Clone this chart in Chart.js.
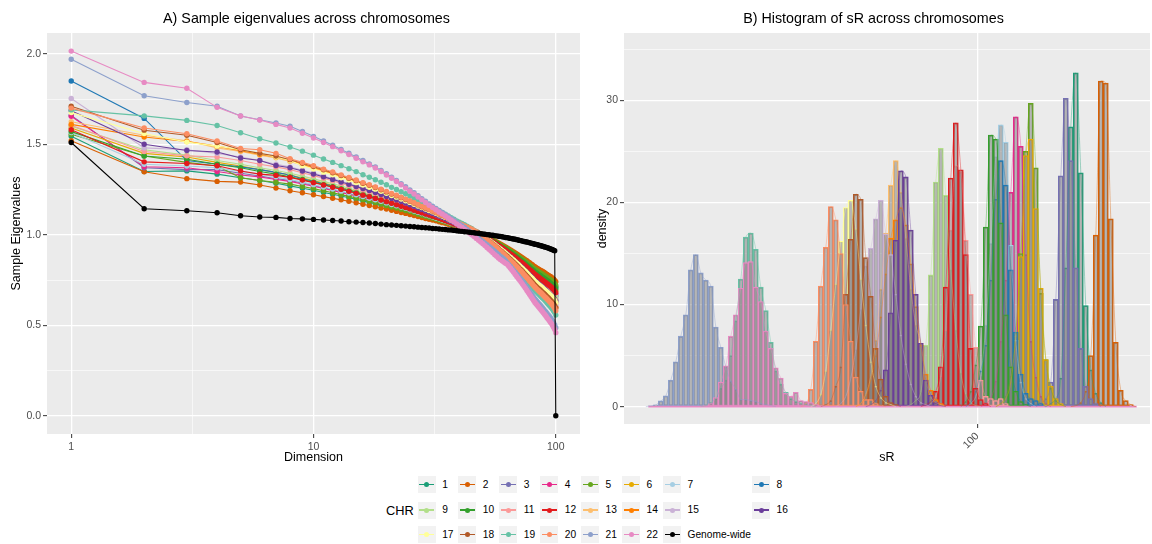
<!DOCTYPE html>
<html>
<head>
<meta charset="utf-8">
<script src="https://cdn.jsdelivr.net/npm/chart.js@4.4.1/dist/chart.umd.min.js"></script>
<style>
  body { margin: 0; background: #fff; font-family: "Liberation Sans", Arial, Helvetica, sans-serif; }
  #page { position: relative; width: 1152px; height: 544px; overflow: hidden; }
  canvas { position: absolute; top: 0; }
  .ptitle { position: absolute; top: 10px; font-size: 14.3px; line-height: 17px; color: #000; white-space: nowrap; transform: translateX(-50%); }
  .lkey { position: absolute; width: 18px; height: 17px; background: #F2F2F2; }
  .lkey .ln { position: absolute; left: 1.5px; top: 7.6px; width: 15px; height: 1.8px; }
  .lkey .pt { position: absolute; left: 6.5px; top: 6px; width: 5px; height: 5px; border-radius: 50%; }
  .ltxt { position: absolute; font-size: 10.2px; line-height: 12px; color: #000; white-space: nowrap; }
  #chrTitle { position: absolute; left: 386px; top: 503px; font-size: 12.8px; line-height: 15px; color: #000; }
</style>
</head>
<body>
<div id="page">
  <canvas id="eig" width="590" height="470" style="left:0px"></canvas>
  <canvas id="hist" width="562" height="470" style="left:590px"></canvas>
  <div class="ptitle" style="left:306.5px">A) Sample eigenvalues across chromosomes</div>
  <div class="ptitle" style="left:873.5px">B) Histogram of sR across chromosomes</div>
  <div id="chrTitle">CHR</div>
  <div id="legend"></div>
</div>
<script>
const FONT = '"Liberation Sans", Arial, Helvetica, sans-serif';

const chrNames = ['1','2','3','4','5','6','7','8','9','10','11','12','13','14','15','16','17','18','19','20','21','22','Genome-wide'];
const chrColors = ['#1B9E77','#D95F02','#7570B3','#E7298A','#66A61E','#E6AB02','#A6CEE3','#1F78B4','#B2DF8A','#33A02C','#FB9A99','#E31A1C','#FDBF6F','#FF7F00','#CAB2D6','#6A3D9A','#FFFF99','#B15928','#66C2A5','#FC8D62','#8DA0CB','#E78AC3','#000000'];

// dimensions 1..100 (x categories of panel A)
const dims = Array.from({length: 100}, (_, i) => i + 1);
const dimBreaks = [1, 3.1623, 10, 31.623, 100];
const dimLabels = [1, 10, 100];
const eigBreaks = [0, 0.25, 0.5, 0.75, 1, 1.25, 1.5, 1.75, 2];

// sample eigenvalues (dimension 1..100)
const eig1 = [1.545,1.35,1.353,1.335,1.315,1.30,1.285,1.27,1.257,1.246,1.234,1.224,1.214,1.205,1.196,1.187,1.179,1.172,1.164,1.157,1.149,1.143,1.136,1.130,1.123,1.117,1.111,1.104,1.099,1.094,1.089,1.084,1.079,1.074,1.069,1.063,1.058,1.053,1.048,1.044,1.041,1.037,1.033,1.029,1.025,1.020,1.015,1.009,1.003,.997,.991,.985,.978,.972,.966,.960,.954,.948,.942,.936,.930,.924,.917,.911,.905,.899,.893,.887,.881,.875,.869,.862,.856,.850,.844,.838,.832,.826,.820,.814,.808,.802,.797,.792,.788,.783,.779,.774,.769,.765,.760,.756,.751,.747,.742,.737,.731,.725,.719,.710];
const eig2 = [1.52,1.348,1.31,1.295,1.291,1.275,1.258,1.243,1.232,1.221,1.211,1.202,1.193,1.185,1.177,1.169,1.162,1.155,1.148,1.142,1.135,1.129,1.123,1.118,1.112,1.106,1.101,1.095,1.090,1.086,1.081,1.077,1.072,1.067,1.063,1.058,1.054,1.049,1.045,1.041,1.038,1.034,1.031,1.028,1.024,1.020,1.015,1.010,1.004,.999,.993,.988,.982,.977,.971,.966,.960,.955,.949,.944,.938,.933,.927,.922,.916,.911,.905,.900,.894,.889,.883,.878,.872,.867,.861,.856,.850,.845,.839,.834,.828,.823,.818,.814,.810,.806,.802,.798,.794,.790,.785,.781,.777,.773,.769,.765,.759,.754,.748,.740];
const eig3 = [1.66,1.37,1.36,1.36,1.34,1.325,1.31,1.30,1.286,1.273,1.260,1.249,1.237,1.227,1.217,1.207,1.199,1.190,1.182,1.173,1.165,1.158,1.150,1.143,1.136,1.129,1.122,1.115,1.109,1.103,1.098,1.092,1.086,1.081,1.075,1.069,1.063,1.058,1.052,1.048,1.044,1.039,1.035,1.031,1.026,1.021,1.015,1.008,1.001,.994,.987,.980,.972,.965,.958,.951,.944,.937,.930,.923,.916,.909,.901,.894,.887,.880,.873,.866,.859,.852,.845,.838,.830,.823,.816,.809,.802,.795,.788,.781,.774,.767,.761,.756,.751,.745,.740,.735,.729,.724,.719,.713,.708,.703,.697,.692,.685,.678,.671,.660];
const eig4 = [1.655,1.376,1.37,1.35,1.33,1.32,1.305,1.295,1.281,1.268,1.256,1.245,1.233,1.224,1.214,1.204,1.196,1.187,1.179,1.170,1.162,1.155,1.148,1.141,1.134,1.127,1.120,1.113,1.107,1.102,1.096,1.091,1.085,1.079,1.074,1.068,1.063,1.057,1.051,1.047,1.043,1.039,1.035,1.030,1.026,1.021,1.015,1.008,1.001,.994,.987,.981,.974,.967,.960,.953,.946,.939,.932,.925,.918,.912,.905,.898,.891,.884,.877,.870,.863,.856,.849,.843,.836,.829,.822,.815,.808,.801,.794,.787,.780,.774,.768,.763,.758,.753,.748,.742,.737,.732,.727,.722,.717,.711,.706,.701,.694,.687,.680,.670];
const eig5 = [1.555,1.435,1.40,1.38,1.315,1.30,1.29,1.28,1.267,1.255,1.243,1.232,1.222,1.212,1.203,1.194,1.186,1.178,1.170,1.162,1.154,1.148,1.141,1.134,1.128,1.121,1.114,1.108,1.102,1.097,1.092,1.087,1.081,1.076,1.071,1.065,1.060,1.055,1.049,1.045,1.042,1.038,1.034,1.030,1.026,1.020,1.015,1.009,1.003,.997,.991,.986,.980,.974,.968,.962,.956,.950,.944,.938,.932,.927,.921,.915,.909,.903,.897,.891,.885,.879,.873,.868,.862,.856,.850,.844,.838,.832,.826,.820,.814,.809,.804,.800,.795,.791,.786,.782,.778,.773,.769,.764,.760,.755,.751,.747,.741,.735,.729,.720];
const eig6 = [1.59,1.45,1.43,1.40,1.38,1.36,1.345,1.33,1.314,1.300,1.286,1.273,1.261,1.250,1.239,1.228,1.218,1.209,1.199,1.190,1.180,1.173,1.165,1.157,1.149,1.141,1.133,1.125,1.119,1.113,1.106,1.100,1.094,1.087,1.081,1.075,1.069,1.062,1.056,1.051,1.047,1.042,1.037,1.032,1.028,1.021,1.015,1.009,1.002,.996,.989,.983,.976,.970,.963,.957,.950,.944,.937,.931,.924,.918,.911,.905,.898,.892,.885,.879,.872,.866,.859,.853,.846,.840,.833,.827,.820,.814,.807,.801,.794,.788,.783,.778,.773,.768,.763,.758,.753,.749,.744,.739,.734,.729,.724,.719,.713,.706,.700,.690];
const eig7 = [1.565,1.39,1.38,1.37,1.35,1.335,1.32,1.305,1.291,1.277,1.264,1.253,1.241,1.231,1.221,1.211,1.202,1.193,1.185,1.176,1.167,1.160,1.153,1.146,1.138,1.131,1.124,1.117,1.111,1.105,1.099,1.093,1.088,1.082,1.076,1.070,1.064,1.059,1.053,1.048,1.044,1.040,1.035,1.031,1.027,1.021,1.015,1.008,1.001,.994,.987,.980,.973,.966,.959,.952,.945,.938,.931,.924,.917,.910,.903,.896,.889,.882,.875,.868,.861,.854,.847,.840,.833,.826,.819,.812,.805,.798,.791,.784,.777,.770,.765,.760,.754,.749,.744,.739,.733,.728,.723,.718,.712,.707,.702,.697,.690,.683,.676,.665];
const eig8 = [1.85,1.643,1.41,1.39,1.375,1.36,1.345,1.33,1.310,1.296,1.282,1.269,1.257,1.246,1.235,1.224,1.215,1.206,1.196,1.187,1.178,1.170,1.162,1.155,1.147,1.139,1.131,1.124,1.117,1.111,1.105,1.099,1.093,1.086,1.080,1.074,1.068,1.062,1.055,1.051,1.046,1.041,1.037,1.032,1.027,1.021,1.015,1.008,1.000,.993,.985,.978,.970,.963,.955,.948,.940,.933,.925,.918,.910,.903,.895,.888,.880,.873,.865,.858,.850,.843,.835,.828,.820,.813,.805,.798,.790,.783,.775,.768,.760,.753,.747,.741,.736,.730,.724,.719,.713,.708,.702,.696,.691,.685,.679,.674,.666,.659,.651,.640];
const eig9 = [1.60,1.47,1.44,1.41,1.39,1.37,1.355,1.34,1.324,1.309,1.295,1.282,1.269,1.257,1.246,1.234,1.225,1.215,1.205,1.195,1.186,1.178,1.169,1.161,1.153,1.145,1.137,1.129,1.122,1.116,1.109,1.103,1.096,1.090,1.083,1.077,1.070,1.064,1.057,1.052,1.048,1.043,1.038,1.033,1.028,1.022,1.015,1.008,1.000,.993,.986,.979,.971,.964,.957,.949,.942,.935,.927,.920,.913,.906,.898,.891,.884,.876,.869,.862,.854,.847,.840,.833,.825,.818,.811,.803,.796,.789,.781,.774,.767,.760,.754,.749,.743,.738,.732,.727,.721,.716,.710,.705,.699,.694,.688,.683,.676,.668,.661,.650];
const eig10 = [1.57,1.435,1.417,1.39,1.37,1.35,1.335,1.32,1.305,1.291,1.277,1.265,1.253,1.242,1.232,1.221,1.212,1.203,1.193,1.184,1.175,1.168,1.160,1.152,1.145,1.137,1.129,1.122,1.116,1.110,1.103,1.097,1.091,1.085,1.079,1.073,1.067,1.061,1.055,1.050,1.046,1.041,1.036,1.032,1.027,1.021,1.015,1.009,1.002,.996,.990,.984,.977,.971,.965,.958,.952,.946,.939,.933,.927,.921,.914,.908,.902,.895,.889,.883,.876,.870,.864,.858,.851,.845,.839,.832,.826,.820,.813,.807,.801,.795,.790,.785,.780,.776,.771,.766,.761,.757,.752,.747,.743,.738,.733,.728,.722,.716,.709,.700];
const eig11 = [1.605,1.46,1.436,1.43,1.41,1.39,1.375,1.36,1.343,1.327,1.312,1.298,1.284,1.272,1.260,1.248,1.238,1.227,1.217,1.206,1.196,1.188,1.179,1.170,1.162,1.153,1.144,1.136,1.129,1.122,1.115,1.108,1.101,1.094,1.087,1.081,1.074,1.067,1.060,1.055,1.050,1.044,1.039,1.034,1.029,1.022,1.015,1.007,1.000,.992,.985,.977,.969,.962,.954,.947,.939,.931,.924,.916,.909,.901,.893,.886,.878,.871,.863,.855,.848,.840,.833,.825,.817,.810,.802,.795,.787,.779,.772,.764,.757,.749,.743,.738,.732,.726,.721,.715,.709,.703,.698,.692,.686,.681,.675,.669,.662,.654,.646,.635];
const eig12 = [1.58,1.403,1.394,1.381,1.352,1.335,1.328,1.317,1.302,1.288,1.275,1.263,1.251,1.240,1.229,1.219,1.210,1.201,1.192,1.183,1.174,1.166,1.158,1.151,1.143,1.136,1.128,1.121,1.115,1.109,1.103,1.097,1.091,1.084,1.078,1.072,1.066,1.060,1.054,1.050,1.045,1.041,1.036,1.032,1.027,1.021,1.015,1.008,1.002,.995,.988,.982,.975,.968,.961,.955,.948,.941,.935,.928,.921,.915,.908,.901,.894,.888,.881,.874,.868,.861,.854,.848,.841,.834,.827,.821,.814,.807,.801,.794,.787,.781,.776,.770,.765,.760,.755,.750,.745,.740,.735,.730,.725,.720,.715,.710,.703,.697,.690,.680];
const eig13 = [1.625,1.55,1.52,1.48,1.46,1.44,1.425,1.405,1.386,1.368,1.350,1.335,1.319,1.306,1.292,1.278,1.267,1.255,1.243,1.231,1.220,1.210,1.200,1.191,1.181,1.171,1.161,1.152,1.144,1.136,1.128,1.120,1.113,1.105,1.097,1.089,1.081,1.074,1.066,1.060,1.054,1.048,1.042,1.036,1.031,1.023,1.015,1.007,.999,.991,.983,.976,.968,.960,.952,.944,.936,.928,.920,.912,.904,.897,.889,.881,.873,.865,.857,.849,.841,.833,.825,.818,.810,.802,.794,.786,.778,.770,.762,.754,.746,.739,.733,.727,.721,.715,.709,.703,.697,.691,.685,.679,.673,.667,.661,.656,.648,.640,.632,.620];
const eig14 = [1.61,1.54,1.515,1.49,1.465,1.445,1.43,1.41,1.390,1.372,1.355,1.339,1.323,1.309,1.295,1.282,1.270,1.258,1.246,1.234,1.222,1.213,1.203,1.193,1.183,1.173,1.163,1.153,1.145,1.137,1.130,1.122,1.114,1.106,1.098,1.090,1.082,1.074,1.066,1.060,1.055,1.049,1.043,1.037,1.031,1.023,1.015,1.007,.998,.990,.982,.974,.965,.957,.949,.940,.932,.924,.915,.907,.899,.891,.882,.874,.866,.857,.849,.841,.832,.824,.816,.808,.799,.791,.783,.774,.766,.758,.749,.741,.733,.725,.718,.712,.706,.700,.693,.687,.681,.675,.669,.662,.656,.650,.644,.637,.629,.621,.612,.600];
const eig15 = [1.753,1.48,1.47,1.45,1.43,1.41,1.39,1.375,1.357,1.341,1.325,1.310,1.296,1.283,1.271,1.258,1.247,1.236,1.226,1.215,1.204,1.195,1.186,1.177,1.168,1.159,1.150,1.141,1.134,1.127,1.119,1.112,1.105,1.098,1.091,1.083,1.076,1.069,1.062,1.056,1.051,1.046,1.040,1.035,1.029,1.022,1.015,1.007,.999,.991,.983,.975,.966,.958,.950,.942,.934,.926,.918,.910,.902,.894,.885,.877,.869,.861,.853,.845,.837,.829,.821,.813,.804,.796,.788,.780,.772,.764,.756,.748,.740,.732,.725,.719,.713,.707,.701,.695,.689,.683,.677,.671,.665,.659,.653,.646,.638,.630,.622,.610];
const eig16 = [1.685,1.50,1.466,1.457,1.424,1.41,1.383,1.37,1.352,1.336,1.320,1.306,1.292,1.279,1.267,1.255,1.244,1.233,1.223,1.212,1.201,1.193,1.184,1.175,1.166,1.157,1.148,1.139,1.132,1.125,1.118,1.111,1.104,1.097,1.090,1.082,1.075,1.068,1.061,1.056,1.051,1.045,1.040,1.035,1.029,1.022,1.015,1.007,1.000,.992,.984,.977,.969,.961,.953,.946,.938,.930,.923,.915,.907,.900,.892,.884,.876,.869,.861,.853,.846,.838,.830,.823,.815,.807,.799,.792,.784,.776,.769,.761,.753,.746,.740,.734,.728,.722,.717,.711,.705,.699,.694,.688,.682,.676,.670,.665,.657,.649,.642,.630];
const eig17 = [1.675,1.56,1.512,1.49,1.47,1.45,1.43,1.41,1.381,1.363,1.346,1.331,1.315,1.302,1.288,1.275,1.263,1.252,1.240,1.229,1.217,1.208,1.198,1.188,1.179,1.169,1.159,1.150,1.142,1.134,1.127,1.119,1.111,1.104,1.096,1.088,1.080,1.073,1.065,1.059,1.054,1.048,1.042,1.036,1.030,1.023,1.015,1.007,.999,.992,.984,.976,.968,.960,.953,.945,.937,.929,.921,.914,.906,.898,.890,.882,.875,.867,.859,.851,.843,.836,.828,.820,.812,.804,.797,.789,.781,.773,.765,.758,.750,.742,.736,.730,.724,.719,.713,.707,.701,.695,.689,.684,.678,.672,.666,.660,.652,.645,.637,.625];
const eig18 = [1.71,1.578,1.55,1.51,1.47,1.45,1.435,1.415,1.395,1.377,1.359,1.343,1.327,1.313,1.299,1.285,1.273,1.261,1.249,1.237,1.225,1.215,1.205,1.195,1.185,1.175,1.165,1.155,1.147,1.139,1.131,1.123,1.115,1.107,1.099,1.091,1.083,1.075,1.067,1.061,1.055,1.049,1.043,1.037,1.031,1.023,1.015,1.007,.998,.990,.981,.973,.965,.956,.948,.939,.931,.923,.914,.906,.897,.889,.881,.872,.864,.855,.847,.839,.830,.822,.813,.805,.797,.788,.780,.771,.763,.755,.746,.738,.729,.721,.715,.708,.702,.696,.690,.683,.677,.671,.664,.658,.652,.645,.639,.633,.624,.616,.608,.595];
const eig19 = [1.69,1.657,1.632,1.604,1.564,1.531,1.507,1.485,1.462,1.440,1.419,1.400,1.382,1.365,1.349,1.332,1.318,1.304,1.290,1.276,1.262,1.250,1.238,1.227,1.215,1.203,1.191,1.180,1.170,1.161,1.151,1.142,1.133,1.123,1.114,1.104,1.095,1.086,1.076,1.069,1.062,1.055,1.048,1.041,1.034,1.024,1.015,1.006,.997,.987,.978,.969,.960,.951,.942,.932,.923,.914,.905,.896,.886,.877,.868,.859,.850,.841,.831,.822,.813,.804,.795,.786,.776,.767,.758,.749,.740,.730,.721,.712,.703,.694,.687,.680,.673,.666,.659,.652,.646,.639,.632,.625,.618,.611,.604,.597,.588,.579,.570,.556];
const eig20 = [1.70,1.59,1.558,1.518,1.477,1.47,1.45,1.42,1.400,1.382,1.363,1.347,1.331,1.317,1.303,1.288,1.276,1.264,1.252,1.240,1.228,1.218,1.207,1.197,1.187,1.177,1.167,1.157,1.149,1.141,1.132,1.124,1.116,1.108,1.100,1.092,1.084,1.076,1.068,1.062,1.056,1.049,1.043,1.037,1.031,1.023,1.015,1.006,.998,.989,.980,.972,.963,.954,.945,.937,.928,.919,.911,.902,.893,.885,.876,.867,.858,.850,.841,.832,.824,.815,.806,.798,.789,.780,.771,.763,.754,.745,.737,.728,.719,.711,.704,.697,.691,.684,.678,.671,.665,.658,.652,.645,.639,.632,.626,.619,.610,.602,.593,.580];
const eig21 = [1.97,1.768,1.731,1.71,1.656,1.636,1.618,1.60,1.571,1.544,1.518,1.495,1.471,1.451,1.430,1.410,1.392,1.375,1.356,1.337,1.318,1.30,1.282,1.265,1.248,1.232,1.216,1.20,1.185,1.17,1.158,1.146,1.134,1.123,1.112,1.101,1.09,1.08,1.07,1.06,1.05,1.04,1.03,1.02,1.01,1.0,.99,.981,.972,.963,.954,.945,.936,.927,.918,.909,.900,.891,.882,.874,.867,.856,.846,.835,.825,.814,.803,.793,.782,.772,.761,.751,.740,.729,.719,.708,.698,.687,.676,.666,.655,.645,.637,.629,.621,.613,.605,.597,.589,.581,.573,.565,.557,.550,.542,.534,.523,.512,.502,.486];
const eig22 = [2.015,1.842,1.81,1.704,1.656,1.634,1.61,1.59,1.561,1.535,1.510,1.487,1.464,1.443,1.423,1.403,1.386,1.369,1.35,1.33,1.312,1.294,1.276,1.258,1.241,1.225,1.209,1.193,1.178,1.163,1.15,1.138,1.126,1.115,1.104,1.093,1.082,1.071,1.06,1.05,1.04,1.03,1.02,1.01,1.0,.99,.98,.970,.960,.950,.940,.930,.920,.910,.900,.890,.881,.872,.864,.857,.850,.843,.837,.826,.815,.804,.793,.781,.770,.759,.748,.737,.726,.715,.704,.692,.681,.670,.659,.648,.637,.626,.617,.609,.601,.592,.584,.576,.567,.559,.551,.542,.534,.526,.517,.509,.498,.487,.476,.459];
const eigGenome = [1.51,1.144,1.133,1.122,1.105,1.098,1.096,1.090,1.088,1.085,1.082,1.079,1.076,1.072,1.070,1.068,1.065,1.062,1.059,1.056,1.054,1.052,1.050,1.048,1.046,1.044,1.042,1.040,1.039,1.037,1.035,1.034,1.032,1.030,1.029,1.027,1.026,1.024,1.022,1.020,1.019,1.017,1.016,1.014,1.012,1.011,1.009,1.008,1.006,1.004,1.003,1.001,1.000,.998,.997,.995,.994,.992,.991,.989,.987,.985,.984,.982,.980,.978,.977,.975,.973,.971,.969,.967,.965,.963,.961,.960,.958,.956,.954,.952,.950,.948,.947,.945,.943,.941,.939,.937,.935,.933,.931,.929,.927,.925,.922,.920,.917,.915,.912,0];
const eigAll = [eig1, eig2, eig3, eig4, eig5, eig6, eig7, eig8, eig9, eig10, eig11, eig12, eig13, eig14, eig15, eig16, eig17, eig18, eig19, eig20, eig21, eig22, eigGenome];

// panel B: histogram bins on log10(sR); first bin centre and bin width
const binOrigin = 1.5168;
const binWidth = 0.0074;
const sRLimits = [1.4771, 2.2556];
const sRBreaks = [2];
const sRBinRange = [1.5131, 2.2359];
const densBreaks = [0, 5, 10, 15, 20, 25, 30, 35];
// index of first bin for each chromosome
const histStart = [80, 85, 78, 67, 70, 70, 64, 64, 52, 63, 56, 55, 42, 42, 38, 44, 33, 35, 11, 31, 0, 11];
// densities per bin
const hist1 = [0.3, 0.8, 2.8, 13.6, 27.4, 32.7, 22.9, 9.9, 3.6, 1.3, 0.4];
const hist2 = [0.1, 0.4, 1.5, 5.0, 16.8, 31.9, 31.7, 18.4, 6.3, 1.6, 0.6, 0.2];
const hist3 = [0.3, 0.8, 2.4, 10.5, 22.6, 30.2, 24.1, 13.6, 5.7, 2.0, 0.8, 0.3];
const hist4 = [0.3, 0.8, 2.5, 6.4, 12.4, 21.0, 28.4, 25.5, 14.9, 6.4, 2.9, 1.0, 0.3];
const hist5 = [0.3, 1.0, 3.0, 7.2, 15.0, 25.0, 29.7, 23.4, 11.1, 4.6, 1.8, 0.6, 0.2];
const hist6 = [0.3, 0.8, 2.4, 6.9, 14.7, 24.6, 26.2, 19.4, 11.6, 4.6, 2.0, 0.8, 0.3];
const hist7 = [0.3, 1.0, 3.0, 8.0, 16.0, 24.5, 27.6, 25.9, 15.8, 6.5, 2.4, 0.8, 0.3];
const hist8 = [0.4, 1.5, 3.5, 6.0, 12.4, 20.3, 24.1, 21.7, 13.4, 7.3, 3.2, 1.3, 0.8, 0.6, 0.3];
const hist9 = [0.2, 0.6, 1.4, 6.0, 12.9, 22.0, 25.3, 20.7, 13.4, 7.5, 3.3, 1.2, 0.4, 0.1];
const hist10 = [0.5, 1.5, 4.1, 7.9, 17.6, 26.6, 26.2, 18.0, 9.0, 3.9, 1.5, 0.5, 0.2];
const hist11 = [0.3, 1.0, 3.0, 7.5, 17.3, 23.6, 23.0, 16.3, 11.0, 5.8, 2.6, 1.0, 0.8, 0.6, 0.8, 0.3];
const hist12 = [0.2, 0.5, 1.5, 3.9, 11.7, 22.4, 27.8, 23.2, 14.9, 5.7, 1.8, 0.7, 0.3];
const hist13 = [0.3, 1.2, 3.0, 6.5, 11.5, 17.0, 21.7, 24.1, 21.0, 16.5, 11.5, 8.0, 6.2, 2.6, 1.0, 0.4, 0.2];
const hist14 = [0.3, 1.0, 2.6, 5.0, 8.8, 13.0, 16.5, 18.3, 19.5, 17.8, 14.0, 9.8, 6.0, 3.2, 1.6, 0.7, 0.3];
const hist15 = [0.3, 1.0, 2.8, 5.6, 9.5, 13.8, 15.5, 18.4, 20.2, 16.9, 14.9, 11.0, 7.0, 4.2, 2.2, 1.0, 0.4, 0.2];
const hist16 = [0.2, 0.6, 1.6, 3.6, 9.2, 16.3, 23.1, 22.5, 17.3, 11.0, 6.2, 2.6, 1.1, 0.4, 0.1];
const hist17 = [0.3, 1.2, 3.5, 7.5, 12.0, 16.2, 19.5, 20.2, 17.4, 12.5, 8.0, 4.4, 2.0, 0.9, 0.4, 0.2];
const hist18 = [0.2, 0.6, 2.0, 3.9, 11.0, 16.4, 20.8, 20.3, 14.6, 10.8, 5.7, 2.7, 1.0, 0.4, 0.2];
const hist19 = [0.1, 0.4, 0.8, 1.8, 2.6, 5.0, 8.4, 12.5, 16.6, 17.0, 15.4, 11.7, 9.4, 6.3, 3.5, 2.2, 1.4, 0.8, 0.5, 0.3, 0.2, 0.1];
const hist20 = [0.3, 1.7, 6.4, 11.8, 15.6, 19.6, 18.3, 15.0, 10.0, 6.4, 2.9, 1.5, 0.7, 0.7, 0.3, 0.1];
const hist21 = [0.07, 0.17, 0.56, 1.05, 2.6, 4.4, 6.9, 9.0, 13.4, 14.9, 13.1, 12.4, 11.8, 7.8, 5.8, 3.9, 2.5, 1.7, 0.7, 0.7, 0.6, 0.5, 0.3, 0.2, 0.1];
const hist22 = [0.1, 0.3, 0.9, 2.4, 4.0, 6.9, 9.0, 11.6, 14.1, 14.2, 11.7, 10.3, 7.4, 5.7, 3.8, 2.8, 1.3, 1.0, 1.4, 0.6, 0.5, 0.4, 0.2, 0.1];
const histAll = [hist1, hist2, hist3, hist4, hist5, hist6, hist7, hist8, hist9, hist10, hist11, hist12, hist13, hist14, hist15, hist16, hist17, hist18, hist19, hist20, hist21, hist22];

// grey panel background like ggplot
const panelBg = {
  id: 'panelBg',
  beforeDraw(chart) {
    const {ctx, chartArea: a} = chart;
    ctx.save();
    ctx.fillStyle = '#EBEBEB';
    ctx.fillRect(a.left, a.top, a.right - a.left, a.bottom - a.top);
    ctx.restore();
  }
};

function gridOpts(isMajor) {
  return {
    offset: false,
    color: '#FFFFFF',
    lineWidth: ctx => (ctx.tick && isMajor(ctx.tick.value)) ? 1.3 : 0.6,
    drawTicks: true,
    tickLength: 4,
    tickWidth: 1,
    tickColor: ctx => (ctx.tick && isMajor(ctx.tick.value)) ? '#333333' : 'rgba(0,0,0,0)'
  };
}
const tickFont = {family: FONT, size: 10.5};
const axisTitleFont = {family: FONT, size: 12.5};

// ---------- panel A ----------
new Chart(document.getElementById('eig'), {
  type: 'line',
  data: {
    datasets: eigAll.map((vals, i) => ({
      label: chrNames[i],
      data: dims.map((d, j) => ({x: d, y: vals[j]})),
      borderColor: chrColors[i],
      backgroundColor: chrColors[i],
      borderWidth: 1.1,
      pointRadius: 2.7,
      pointBorderWidth: 0,
      pointHoverRadius: 2.7,
      tension: 0,
      order: eigAll.length - 1 - i
    }))
  },
  options: {
    responsive: false,
    animation: false,
    events: [],
    layout: {padding: {top: 33, right: 10, left: 0, bottom: 0}},
    plugins: {legend: {display: false}, tooltip: {enabled: false}},
    scales: {
      x: {
        type: 'logarithmic',
        min: 0.7943,
        max: 125.89,
        afterBuildTicks: s => { s.ticks = dimBreaks.map(v => ({value: v})); },
        afterFit: s => { s.height = 36; },
        ticks: {
          autoSkip: false, maxRotation: 0, padding: 3, color: '#4D4D4D', font: tickFont,
          callback: v => dimLabels.includes(v) ? String(v) : ''
        },
        grid: gridOpts(v => dimLabels.includes(v)),
        border: {display: false},
        title: {display: true, text: 'Dimension', color: '#000', font: axisTitleFont, padding: {top: 0, bottom: 4.5}}
      },
      y: {
        min: -0.101,
        max: 2.115,
        afterBuildTicks: s => { s.ticks = eigBreaks.map(v => ({value: v})); },
        afterFit: s => { s.width = 47; },
        ticks: {
          padding: 2, color: '#4D4D4D', font: tickFont,
          callback: v => (Math.round(v * 100) % 50 === 0) ? v.toFixed(1) : ''
        },
        grid: gridOpts(v => Math.round(v * 100) % 50 === 0),
        border: {display: false},
        title: {display: true, text: 'Sample Eigenvalues', color: '#000', font: axisTitleFont, padding: {top: 9.5, bottom: 0}}
      }
    }
  },
  plugins: [panelBg]
});

// ---------- panel B ----------
const binX = (i, j) => binOrigin + (histStart[i] + j) * binWidth;

const barSets = histAll.map((vals, i) => ({
  type: 'bar',
  label: chrNames[i],
  data: vals.map((v, j) => ({x: binX(i, j), y: v})),
  backgroundColor: 'rgba(127,127,127,0.5)',
  borderColor: chrColors[i],
  borderWidth: 1.1,
  borderSkipped: false,
  grouped: false,
  barPercentage: 1,
  categoryPercentage: 1,
  order: 200 - i
}));

const densSets = histAll.map((vals, i) => {
  const pts = vals.map((v, j) => ({x: binX(i, j), y: v}));
  pts.unshift({x: binX(i, -1), y: 0});
  pts.push({x: binX(i, vals.length), y: 0});
  return {
    type: 'line',
    label: chrNames[i] + ' density',
    data: pts,
    borderColor: chrColors[i] + 'AA',
    borderWidth: 0.6,
    pointRadius: 0,
    cubicInterpolationMode: 'monotone',
    order: 60 - i
  };
});

const baseline = {
  type: 'line',
  label: 'zero bins',
  data: [{x: sRBinRange[0], y: 0}, {x: sRBinRange[1], y: 0}],
  borderColor: chrColors[21],
  borderWidth: 1.6,
  pointRadius: 0,
  order: 100
};

new Chart(document.getElementById('hist'), {
  type: 'bar',
  data: {datasets: [...barSets, baseline, ...densSets]},
  options: {
    responsive: false,
    animation: false,
    events: [],
    layout: {padding: {top: 33, right: 2, left: 0, bottom: 0}},
    plugins: {legend: {display: false}, tooltip: {enabled: false}},
    scales: {
      x: {
        type: 'linear',
        offset: false,
        min: sRLimits[0],
        max: sRLimits[1],
        afterBuildTicks: s => { s.ticks = sRBreaks.map(v => ({value: v})); },
        afterFit: s => { s.height = 46; },
        ticks: {
          autoSkip: false, minRotation: 45, maxRotation: 45, padding: 2, color: '#4D4D4D', font: tickFont,
          callback: v => String(Math.round(Math.pow(10, v)))
        },
        grid: gridOpts(() => true),
        border: {display: false},
        title: {display: true, text: 'sR', color: '#000', font: axisTitleFont, padding: {top: 0, bottom: 4.5}}
      },
      y: {
        min: -1.7,
        max: 36.6,
        afterBuildTicks: s => { s.ticks = densBreaks.map(v => ({value: v})); },
        afterFit: s => { s.width = 34; },
        ticks: {
          padding: 2, color: '#4D4D4D', font: tickFont,
          callback: v => (v % 10 === 0) ? String(v) : ''
        },
        grid: gridOpts(v => v % 10 === 0),
        border: {display: false},
        title: {display: true, text: 'density', color: '#000', font: axisTitleFont, padding: {top: 5.5, bottom: 0}}
      }
    }
  },
  plugins: [panelBg]
});

// ---------- shared legend ----------
const legendCols = [426.7, 467.3, 508.3, 549.3, 590, 631, 672, 761];
const legendRows = [484.5, 510.3, 534.5];
const legendEl = document.getElementById('legend');
chrNames.forEach((name, i) => {
  const cx = legendCols[i % 8];
  const cy = legendRows[Math.floor(i / 8)];
  const key = document.createElement('div');
  key.className = 'lkey';
  key.style.left = (cx - 9) + 'px';
  key.style.top = (cy - 8.5) + 'px';
  key.innerHTML = '<div class="ln" style="background:' + chrColors[i] + '"></div><div class="pt" style="background:' + chrColors[i] + '"></div>';
  legendEl.appendChild(key);
  const txt = document.createElement('div');
  txt.className = 'ltxt';
  txt.textContent = name;
  txt.style.left = (cx + 15.5) + 'px';
  txt.style.top = (cy - 6) + 'px';
  legendEl.appendChild(txt);
});
</script>
</body>
</html>
